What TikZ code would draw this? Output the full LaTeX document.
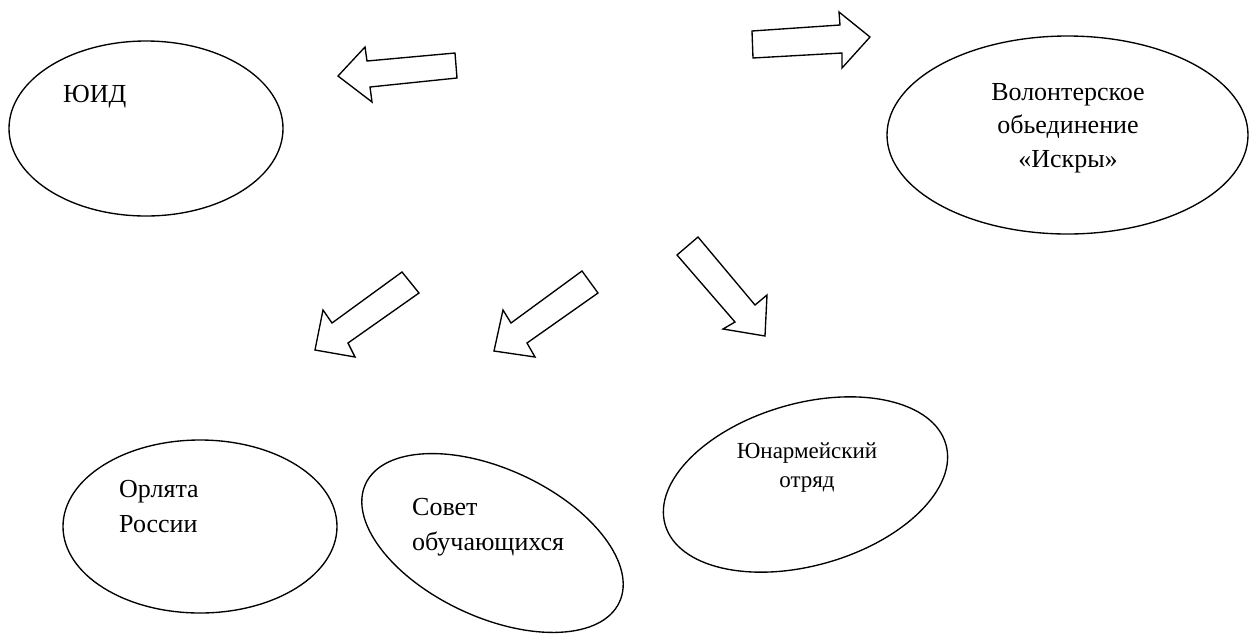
\documentclass[tikz,border=0pt]{standalone}
\usepackage{fontspec}
\setmainfont{Liberation Serif}
\usetikzlibrary{shapes.geometric}
\begin{document}
\begin{tikzpicture}[x=1pt,y=-1pt,
  ell/.style={draw,line width=1.35pt,ellipse,inner sep=0pt,outer sep=0pt},
  blockarrow/.style={draw,line width=1.35pt,line join=miter,fill=white},
  lbl/.style={inner sep=0pt,font=\fontsize{26}{34}\selectfont},
  lbls/.style={inner sep=0pt,font=\fontsize{23}{29}\selectfont}]
\useasboundingbox (0,0) rectangle (1256,633);
% ellipses
\node[ell,minimum width=274pt,minimum height=175pt] (yuid) at (146,128.5) {};
\node[ell,minimum width=361pt,minimum height=198pt] (volont) at (1067.5,135) {};
\node[ell,minimum width=274pt,minimum height=173pt] (orl) at (200,526.5) {};
\node[ell,minimum width=280pt,minimum height=148pt,rotate=-25] (sovet) at (492.5,543) {};
\node[ell,minimum width=292pt,minimum height=162pt,rotate=16] (yunarm) at (805.5,484.5) {};
% texts
\node[lbl,anchor=base west] (t1) at (63,102) {ЮИД};
\node[lbl,anchor=base] (t2a) at (1068,100) {Волонтерское};
\node[lbl,anchor=base] (t2b) at (1068,133) {обьединение};
\node[lbl,anchor=base] (t2c) at (1068,167) {«Искры»};
\node[lbl,anchor=base west] (t3a) at (119,497) {Орлята};
\node[lbl,anchor=base west] (t3b) at (119,532) {России};
\node[lbl,anchor=base west] (t4a) at (412,515) {Совет};
\node[lbl,anchor=base west] (t4b) at (412,550) {обучающихся};
\node[lbls,anchor=base] (t5a) at (807,458) {Юнармейский};
\node[lbls,anchor=base] (t5b) at (807,487) {отряд};
% block arrows
\draw[blockarrow] (338,76) -- (365,47) -- (367,61) -- (455,53) -- (457,78) -- (370,87) -- (372,102) -- cycle;
\draw[blockarrow] (752,31) -- (840,25) -- (839,12) -- (870,37) -- (842,68) -- (842,53) -- (753,58) -- cycle;
\draw[blockarrow] (402,272) -- (419,293) -- (348,343) -- (355,357) -- (315,350) -- (323,310) -- (332,323) -- cycle;
\draw[blockarrow] (582,271) -- (598,293) -- (527,343) -- (535,357) -- (494,351) -- (503,310) -- (511,323) -- cycle;
\draw[blockarrow] (698,237) -- (755,305) -- (767,295) -- (765,336) -- (723,329) -- (735,322) -- (677,255) -- cycle;
\end{tikzpicture}
\end{document}
